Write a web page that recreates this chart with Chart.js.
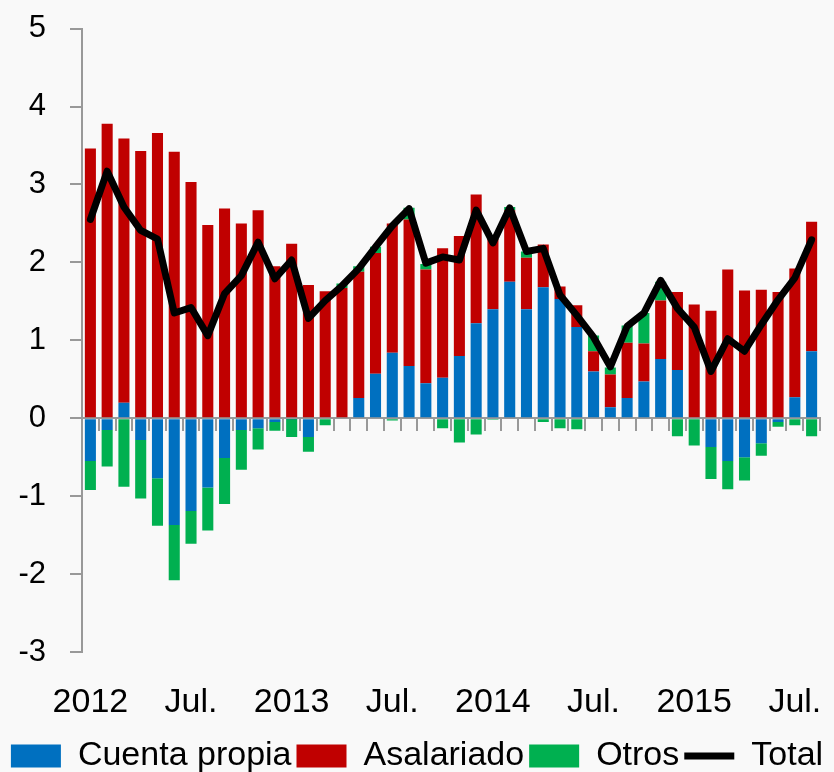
<!DOCTYPE html>
<html lang="es">
<head>
<meta charset="utf-8">
<title>Empleo: contribuciones</title>
<script src="https://cdn.jsdelivr.net/npm/chart.js@4.4.1/dist/chart.umd.min.js"></script>
<style>
  html, body { margin: 0; padding: 0; background: #f9f9f9; }
  #wrap { width: 834px; height: 772px; }
</style>
</head>
<body>
<div id="wrap"><canvas id="chart"></canvas></div>
<script>
// ── datos: ene-2012 .. ago-2015, mensual ──

const tickLabels = [
  '2012', '', '', '', '', '', 'Jul.', '', '', '', '', '',
  '2013', '', '', '', '', '', 'Jul.', '', '', '', '', '',
  '2014', '', '', '', '', '', 'Jul.', '', '', '', '', '',
  '2015', '', '', '', '', '', 'Jul.', '',
];

const cuentaPropia = [
  -0.55, -0.15, 0.20, -0.28, -0.77, -1.37, -1.19, -0.89, -0.51, -0.15, -0.13, -0.05,
  -0.01, -0.24, 0.00, 0.00, 0.26, 0.57, 0.84, 0.67, 0.45, 0.52, 0.80, 1.22,
  1.40, 1.75, 1.40, 1.68, 1.53, 1.17, 0.60, 0.14, 0.26, 0.47, 0.76, 0.62,
  0.00, -0.37, -0.55, -0.50, -0.32, -0.05, 0.27, 0.86,
];

const asalariado = [
  3.46, 3.78, 3.39, 3.43, 3.66, 3.42, 3.03, 2.48, 2.69, 2.50, 2.67, 1.95,
  2.24, 1.71, 1.63, 1.67, 1.62, 1.55, 1.66, 1.88, 1.46, 1.66, 1.54, 1.65,
  0.90, 0.92, 0.66, 0.55, 0.16, 0.28, 0.26, 0.42, 0.71, 0.49, 0.75, 1.00,
  1.46, 1.38, 1.91, 1.64, 1.65, 1.62, 1.65, 1.66,
];

const otros = [
  -0.37, -0.47, -0.88, -0.75, -0.61, -0.71, -0.42, -0.55, -0.59, -0.51, -0.27, -0.11,
  -0.23, -0.19, -0.09, 0.06, 0.07, 0.08, -0.03, 0.15, 0.07, -0.13, -0.31, -0.21,
  -0.02, 0.04, 0.08, -0.05, -0.13, -0.14, 0.20, 0.09, 0.22, 0.39, 0.24, -0.23,
  -0.35, -0.41, -0.36, -0.30, -0.16, -0.06, -0.09, -0.23,
];

const total = [
  2.55, 3.17, 2.71, 2.41, 2.30, 1.35, 1.42, 1.06, 1.60, 1.83, 2.26, 1.79,
  2.03, 1.28, 1.51, 1.70, 1.92, 2.20, 2.47, 2.69, 1.99, 2.07, 2.03, 2.67,
  2.25, 2.70, 2.14, 2.18, 1.58, 1.32, 1.04, 0.66, 1.18, 1.35, 1.77, 1.41,
  1.17, 0.60, 1.02, 0.86, 1.20, 1.52, 1.80, 2.29,
];

const COLORS = {
  blue: '#0070C0',
  red: '#C00000',
  green: '#00B050',
  line: '#000000',
  axis: '#999999',
};

Chart.defaults.font.family = '"Liberation Sans", Arial, sans-serif';
Chart.defaults.color = '#000';

function barSet(label, data, color) {
  return {
    label,
    data,
    backgroundColor: color,
    borderWidth: 0,
    stack: 'emp',
    order: 2,
    pointStyle: 'rect',
    categoryPercentage: 1,
    barPercentage: 0.66,
  };
}

new Chart(document.getElementById('chart'), {
  type: 'bar',
  data: {
    labels: tickLabels,
    datasets: [
      barSet('Cuenta propia', cuentaPropia, COLORS.blue),
      barSet('Asalariado', asalariado, COLORS.red),
      barSet('Otros', otros, COLORS.green),
      {
        type: 'line',
        label: 'Total',
        data: total,
        borderColor: COLORS.line,
        backgroundColor: COLORS.line,
        borderWidth: 7,
        borderCapStyle: 'round',
        borderJoinStyle: 'round',
        pointRadius: 0,
        pointStyle: 'line',
        tension: 0,
        order: 1,
      },
    ],
  },
  options: {
    responsive: true,
    maintainAspectRatio: false,
    animation: false,
    layout: { padding: { left: 0, right: 0, top: 0, bottom: -11 } },
    plugins: {
      tooltip: { enabled: false },
      legend: {
        position: 'bottom',
        labels: {
          sort: (a, b) => a.datasetIndex - b.datasetIndex,
          usePointStyle: true,
          pointStyleWidth: 50,
          boxHeight: 23,
          padding: 5,
          font: { size: 34 },
          color: '#000',
        },
      },
    },
    scales: {
      x: {
        stacked: true,
        afterFit: (s) => { s.height = 82; },
        grid: { display: false },
        border: { display: false },
        ticks: { autoSkip: false, maxRotation: 0, padding: 22, font: { size: 34 } },
      },
      x2: {
        type: 'category',
        position: { y: 0 },
        offset: true,
        grid: { offset: true, drawOnChartArea: false, drawTicks: true, tickLength: 12, color: COLORS.axis, lineWidth: 2 },
        border: { color: COLORS.axis, width: 2 },
        ticks: { display: false },
      },
      y: {
        stacked: true,
        min: -3,
        max: 5,
        afterFit: (s) => { s.width = 82; },
        // marca de 12px pegada al eje; el resto de la longitud queda en blanco
        grid: {
          drawOnChartArea: false, drawTicks: true, tickLength: 26,
          tickBorderDash: [12, 14], tickBorderDashOffset: 12,
          color: COLORS.axis, lineWidth: 2,
        },
        border: { color: COLORS.axis, width: 2 },
        ticks: { stepSize: 1, padding: 10, font: { size: 31 } },
      },
      // margen derecho vacío (deja la leyenda centrada en todo el ancho)
      yRight: {
        position: 'right',
        afterFit: (s) => { s.width = 14; },
        grid: { display: false },
        border: { display: false },
        ticks: { display: false },
      },
    },
  },
});
</script>
</body>
</html>
